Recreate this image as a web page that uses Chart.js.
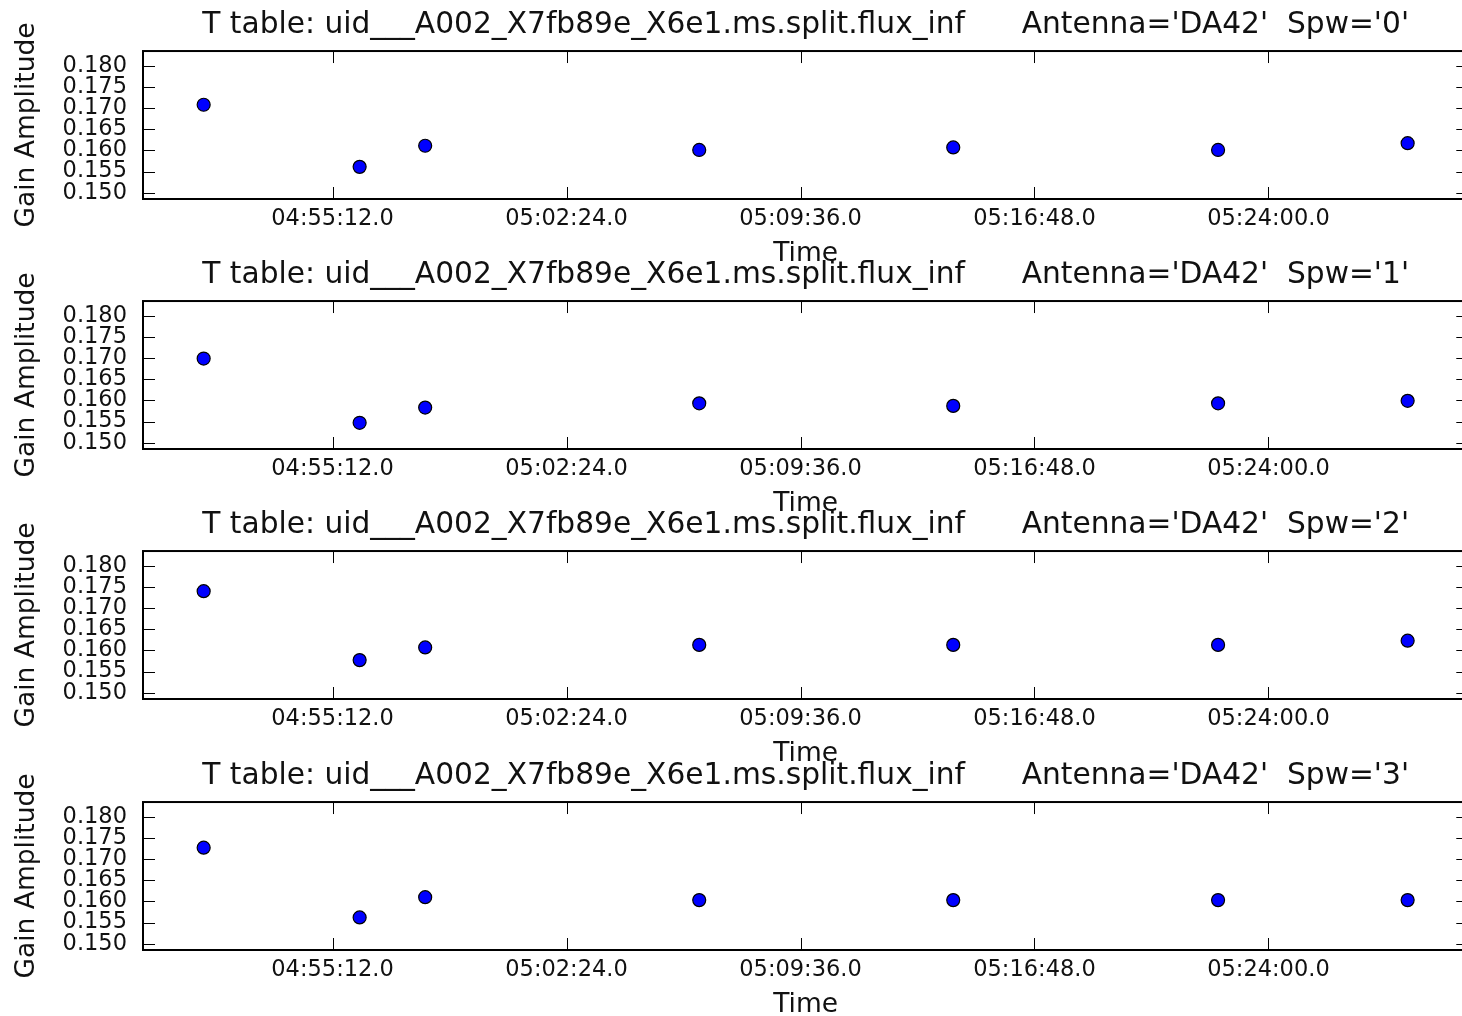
<!DOCTYPE html>
<html>
<head>
<meta charset="utf-8">
<title>Gain Amplitude vs Time</title>
<script src="https://cdn.jsdelivr.net/npm/chart.js@4.4.1/dist/chart.umd.min.js"></script>
<style>
  html, body { margin: 0; padding: 0; background: #fff; overflow: hidden; width: 1462px; height: 1016px; }
  .panel { position: absolute; left: 0; }
</style>
</head>
<body>
<div class="panel" style="top:0px"><canvas id="spw0" width="1476" height="270"></canvas></div>
<div class="panel" style="top:250px"><canvas id="spw1" width="1476" height="270"></canvas></div>
<div class="panel" style="top:500px"><canvas id="spw2" width="1476" height="270"></canvas></div>
<div class="panel" style="top:751px"><canvas id="spw3" width="1476" height="270"></canvas></div>
<script>
const spwList = ['0', '1', '2', '3'];
const scanTimes = ['04:51:14', '04:56:02', '04:58:03', '05:06:29', '05:14:18', '05:22:27', '05:28:17'];
const ampSpw0 = [0.1708, 0.1561, 0.1611, 0.1601, 0.1607, 0.1601, 0.1617];
const ampSpw1 = [0.1699, 0.1547, 0.1583, 0.1593, 0.1587, 0.1593, 0.1599];
const ampSpw2 = [0.1740, 0.1577, 0.1607, 0.1613, 0.1613, 0.1613, 0.1623];
const ampSpw3 = [0.1727, 0.1562, 0.1610, 0.1603, 0.1603, 0.1603, 0.1603];
const timeTicks = ['04:55:12.0', '05:02:24.0', '05:09:36.0', '05:16:48.0', '05:24:00.0'];
const ampTicks = [0.150, 0.155, 0.160, 0.165, 0.170, 0.175, 0.180];
const timeRange = ['04:49:22', '05:30:09'];
const ampRange = [0.1485, 0.1835];

const FONT = "'DejaVu Sans', 'Liberation Sans', sans-serif";
const TICK_LEN = 12;

function toSeconds(text) {
  const [h, m, s] = text.split(':').map(Number);
  return h * 3600 + m * 60 + s;
}

// matplotlib-style frame with inward ticks on all four sides
const frameTicks = {
  id: 'frameTicks',
  afterDatasetsDraw(chart) {
    const { ctx, chartArea: a, scales: { x, y } } = chart;
    ctx.save();
    ctx.strokeStyle = '#000';
    ctx.lineWidth = 1;
    ctx.beginPath();
    x.ticks.forEach(t => {
      const px = Math.round(x.getPixelForValue(t.value)) + 0.5;
      ctx.moveTo(px, a.bottom); ctx.lineTo(px, a.bottom - TICK_LEN);
      ctx.moveTo(px, a.top); ctx.lineTo(px, a.top + TICK_LEN);
    });
    y.ticks.forEach(t => {
      const py = Math.round(y.getPixelForValue(t.value)) + 0.5;
      ctx.moveTo(a.left, py); ctx.lineTo(a.left + TICK_LEN, py);
      ctx.moveTo(a.right, py); ctx.lineTo(a.right - TICK_LEN, py);
    });
    ctx.stroke();
    ctx.lineWidth = 2;
    ctx.strokeRect(a.left, a.top, a.right - a.left, a.bottom - a.top);
    ctx.restore();
  }
};

function makePanel(id, spw, amps) {
  const points = scanTimes.map((t, i) => ({ x: toSeconds(t), y: amps[i] }));
  return new Chart(document.getElementById(id), {
    type: 'scatter',
    data: {
      datasets: [{
        data: points,
        pointRadius: 6.5,
        pointHoverRadius: 6.5,
        backgroundColor: '#0000ff',
        borderColor: '#000',
        borderWidth: 1.2,
      }]
    },
    options: {
      responsive: false,
      animation: false,
      layout: { padding: { top: 0, left: 0, right: 6, bottom: 0 } },
      plugins: {
        legend: { display: false },
        tooltip: { enabled: false },
        title: {
          display: true,
          fullSize: false,
          text: `T table: uid___A002_X7fb89e_X6e1.ms.split.flux_inf      Antenna='DA42'  Spw='${spw}'`,
          color: '#111',
          font: { family: FONT, size: 29.7, weight: 'normal' },
          padding: { top: 7.5, bottom: 7.9 },
        }
      },
      scales: {
        x: {
          type: 'linear',
          min: toSeconds(timeRange[0]),
          max: toSeconds(timeRange[1]),
          afterBuildTicks: scale => { scale.ticks = timeTicks.map(t => ({ value: toSeconds(t.slice(0, 8)) })); },
          afterFit: scale => { scale.height = 71; },
          grid: { display: false, drawTicks: false },
          border: { display: false },
          ticks: {
            autoSkip: false,
            maxRotation: 0,
            padding: 7,
            color: '#111',
            font: { family: FONT, size: 22.5 },
            callback: (value, index) => timeTicks[index],
          },
          title: {
            display: true,
            text: 'Time',
            color: '#111',
            font: { family: FONT, size: 26.5 },
            padding: { top: 0, bottom: 0 },
          }
        },
        y: {
          min: ampRange[0],
          max: ampRange[1],
          afterBuildTicks: scale => { scale.ticks = ampTicks.map(v => ({ value: v })); },
          afterFit: scale => { scale.width = 143; },
          grid: { display: false, drawTicks: false },
          border: { display: false },
          ticks: {
            autoSkip: false,
            padding: 16,
            color: '#111',
            font: { family: FONT, size: 22.5 },
            callback: value => Number(value).toFixed(3),
          },
          title: {
            display: true,
            text: 'Gain Amplitude',
            color: '#111',
            font: { family: FONT, size: 26.5 },
            padding: { top: 11, bottom: 0 },
          }
        }
      }
    },
    plugins: [frameTicks]
  });
}

const ampBySpw = [ampSpw0, ampSpw1, ampSpw2, ampSpw3];
spwList.forEach((spw, i) => makePanel('spw' + i, spw, ampBySpw[i]));
</script>
</body>
</html>
